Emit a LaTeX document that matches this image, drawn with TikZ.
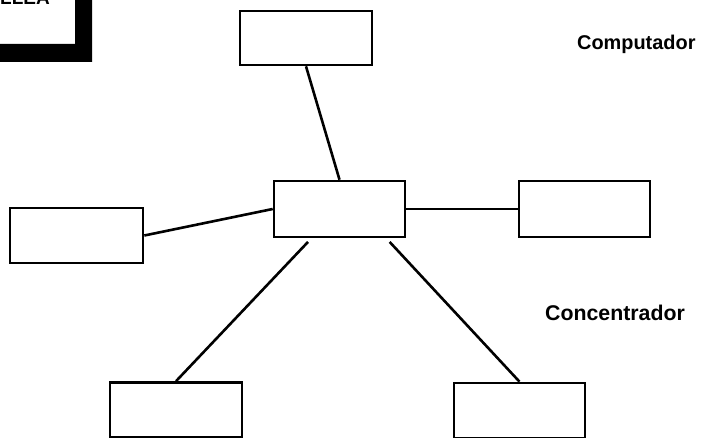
\documentclass[tikz,border=0pt]{standalone}
\usepackage{fontspec}
\setmainfont{Liberation Sans}
\usetikzlibrary{calc}
\begin{document}
\begin{tikzpicture}[x=1pt,y=-1pt,
  box/.style={draw=black,line width=2.6pt,fill=white,rectangle,inner sep=0pt,minimum width=131pt,minimum height=55pt},
  link/.style={draw=black,line width=2.6pt},
  lbl/.style={inner sep=0pt,anchor=base west,font=\bfseries}]
\useasboundingbox (0,0) rectangle (707,438);
\begin{scope}
\clip (0,0) rectangle (707,438);
\fill[white] (0,0) rectangle (707,438);
% cropped title frame
\fill[black] (0,44) -- (75,44) -- (75,0) -- (92,0) -- (92,62) -- (0,62) -- cycle;
\node[inner sep=0pt,anchor=base east,font=\bfseries\fontsize{19}{22}\selectfont] (ttl) at (50,5) {LLEA};
% boxes
\node[box,minimum width=132pt,minimum height=54pt] (top) at (306,38) {};
\node[box,minimum height=56pt] (hub) at (339.5,209) {};
\node[box,minimum width=133pt] (left) at (76.5,235.5) {};
\node[box,minimum height=56pt] (right) at (584.5,209) {};
\node[box,minimum width=132pt] (bl) at (176,410) {};
\node[box] (br) at (519.5,410.5) {};
% connectors
\draw[link] (top.south) -- (hub.north);
\draw[link] (left.east) -- (hub.west);
\draw[link] (hub.east) -- (right.west);
\draw[link,shorten <=5pt] ($(hub.south west)!0.29!(hub.south east)$) -- (bl.north);
\draw[link,shorten <=5pt] ($(hub.south west)!0.85!(hub.south east)$) -- (br.north);
% labels
\node[lbl,font=\bfseries\fontsize{19.9}{23}\selectfont] (comp) at (577,50) {Computador};
\node[lbl,font=\bfseries\fontsize{21.3}{25}\selectfont] (conc) at (545,321) {Concentrador};
\end{scope}
\end{tikzpicture}
\end{document}
